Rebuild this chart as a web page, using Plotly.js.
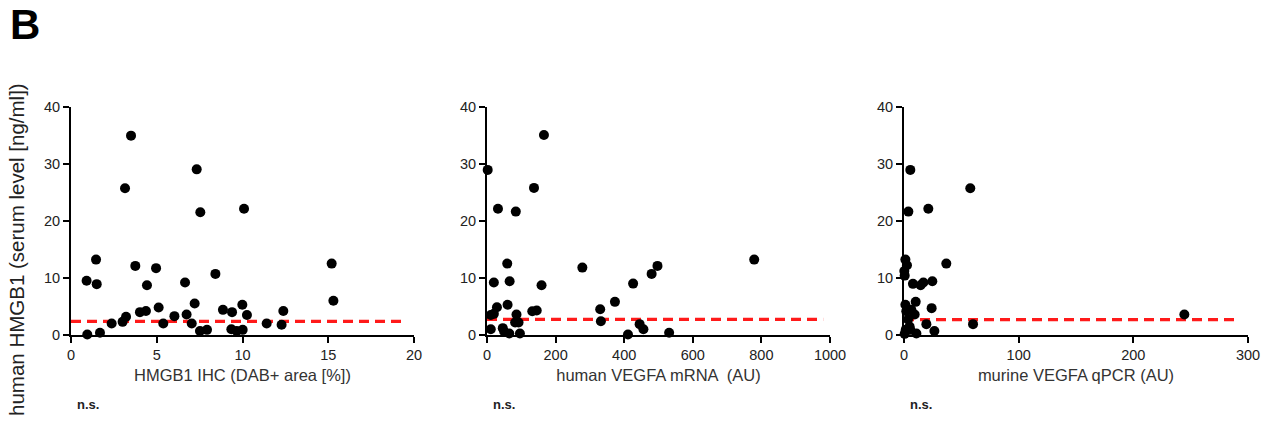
<!DOCTYPE html>
<html>
<head>
<meta charset="utf-8">
<script src="https://cdn.plot.ly/plotly-3.0.1.min.js"></script>
<style>html,body{margin:0;padding:0;background:#fff}#chart{width:1273px;height:430px}</style>
</head>
<body>
<div id="chart"></div>
<script>
// Panel 1: HMGB1 IHC (DAB+ area [%]) vs serum HMGB1
const ihcX = [0.95,0.91,1.46,1.50,1.69,2.37,3.01,3.21,3.15,3.50,3.75,4.02,4.37,4.43,4.96,5.11,5.38,6.03,6.65,6.74,7.21,7.04,7.33,7.54,7.52,7.93,8.42,8.86,9.39,9.35,9.66,10.01,9.99,10.09,10.26,11.41,12.28,12.38,15.2,15.3];
const ihcY = [0.1,9.5,13.2,8.9,0.4,2.0,2.3,3.2,25.7,34.9,12.1,4.0,4.2,8.7,11.7,4.8,2.0,3.3,9.2,3.6,5.5,2.0,29.0,21.5,0.7,0.9,10.7,4.4,4.0,1.0,0.7,0.9,5.3,22.1,3.5,2.0,1.8,4.2,12.5,6.0];
// Panel 2: human VEGFA mRNA (AU)
const hvegfX = [2,32,84,137,166,20,59,66,159,278,426,480,497,779,11,20,29,60,86,82,92,11,46,50,65,96,132,145,330,332,373,411,445,456,531];
const hvegfY = [28.9,22.1,21.6,25.75,35.0,9.2,12.5,9.4,8.7,11.8,9.0,10.7,12.1,13.2,3.5,3.7,4.85,5.3,3.6,2.2,2.2,1.0,1.2,0.6,0.25,0.25,4.15,4.3,4.5,2.4,5.8,0.1,1.9,1.0,0.4];
// Panel 3: murine VEGFA qPCR (AU)
const mvegfX = [5.5,3.8,21.2,57.8,1.2,2.6,0.3,0.6,36.9,7.8,14.5,16.9,24.7,10.2,24.1,1.2,2.0,6.4,9.3,3.5,19.5,60.2,26.5,1.5,5.5,10.8,0.6,244.5,4.9];
const mvegfY = [28.9,21.6,22.1,25.7,13.2,12.2,11.2,10.4,12.5,8.95,8.7,9.2,9.4,5.8,4.7,5.3,4.15,4.4,3.6,2.7,1.9,1.9,0.7,0.9,0.9,0.25,0.2,3.6,1.5];
// Cut-off lines (x extent, y level)
const cut1X = [0, 19.5], cut1Y = [2.4, 2.4];
const cut2X = [0, 980],  cut2Y = [2.75, 2.75];
const cut3X = [0, 293],  cut3Y = [2.7, 2.7];
const xTitles = ['HMGB1 IHC (DAB+ area [%])', 'human VEGFA mRNA  (AU)', 'murine VEGFA qPCR (AU)'];
const yTitle = 'human HMGB1 (serum level [ng/ml])';
const yTicks = [0,10,20,30,40];

const W = 1273, H = 430;
const F = 'Liberation Sans, Arial, sans-serif';
const doms = [[71/W, 414/W], [487/W, 830/W], [904/W, 1248/W]];
const ydom = [(H-335)/H, (H-106.5)/H];
const xr = [[0,20],[0,1000],[0,300]];
const xdt = [5,200,100];

const pts = [[ihcX,ihcY],[hvegfX,hvegfY],[mvegfX,mvegfY]];
const cuts = [[cut1X,cut1Y],[cut2X,cut2Y],[cut3X,cut3Y]];
const traces = [];
const layout = {
  width: W, height: H, margin:{l:0,r:0,t:0,b:0},
  paper_bgcolor:'#fff', plot_bgcolor:'rgba(0,0,0,0)', showlegend:false,
  font:{family:F, color:'#000'},
  annotations: [],
};
for (let i=0;i<3;i++){
  const s = i===0 ? '' : String(i+1);
  traces.push({x:cuts[i][0], y:cuts[i][1], xaxis:'x'+s, yaxis:'y'+s, mode:'lines', type:'scatter',
    line:{color:'#ff1a1a', width:3.2, dash:'10px,6px'}, hoverinfo:'skip', cliponaxis:false});
  traces.push({x:pts[i][0], y:pts[i][1], xaxis:'x'+s, yaxis:'y'+s, mode:'markers', type:'scatter',
    marker:{color:'#000', size:10}, cliponaxis:false});
  layout['xaxis'+s] = {domain:doms[i], range:xr[i], anchor:'y'+s, dtick:xdt[i], tick0:0,
    showline:true, linecolor:'#000', linewidth:2, ticks:'outside', ticklen:6, tickwidth:2, tickcolor:'#000',
    showgrid:false, zeroline:false, tickfont:{family:F, size:14.5, color:'#222'},
    title:{text:xTitles[i], font:{family:F, size:16.5, color:'#333'}, standoff:7}};
  layout['yaxis'+s] = {domain:ydom, range:[0,40], anchor:'x'+s, tickvals:yTicks,
    showline:true, linecolor:'#000', linewidth:2, ticks:'outside', ticklen:6, tickwidth:2, tickcolor:'#000',
    showgrid:false, zeroline:false, tickfont:{family:F, size:14.5, color:'#222'}};
  layout.annotations.push({xref:'paper', yref:'paper', x:(doms[i][0]*W+4)/W, y:(H-404)/H, xanchor:'left', yanchor:'middle',
    text:'<b>n.s.</b>', showarrow:false, font:{family:F, size:13, color:'#222'}});
}
layout.annotations.push({xref:'paper', yref:'paper', x:8/W, y:(H-25)/H, xanchor:'left', yanchor:'middle',
  text:'<b>B</b>', showarrow:false, font:{family:F, size:42, color:'#000'}});
layout.annotations.push({xref:'paper', yref:'paper', x:17/W, y:(H-250)/H, xanchor:'center', yanchor:'middle',
  text:yTitle, textangle:-90, showarrow:false, font:{family:F, size:20.5, color:'#222'}});
Plotly.newPlot('chart', traces, layout, {displayModeBar:false, staticPlot:true});
</script>
</body>
</html>
